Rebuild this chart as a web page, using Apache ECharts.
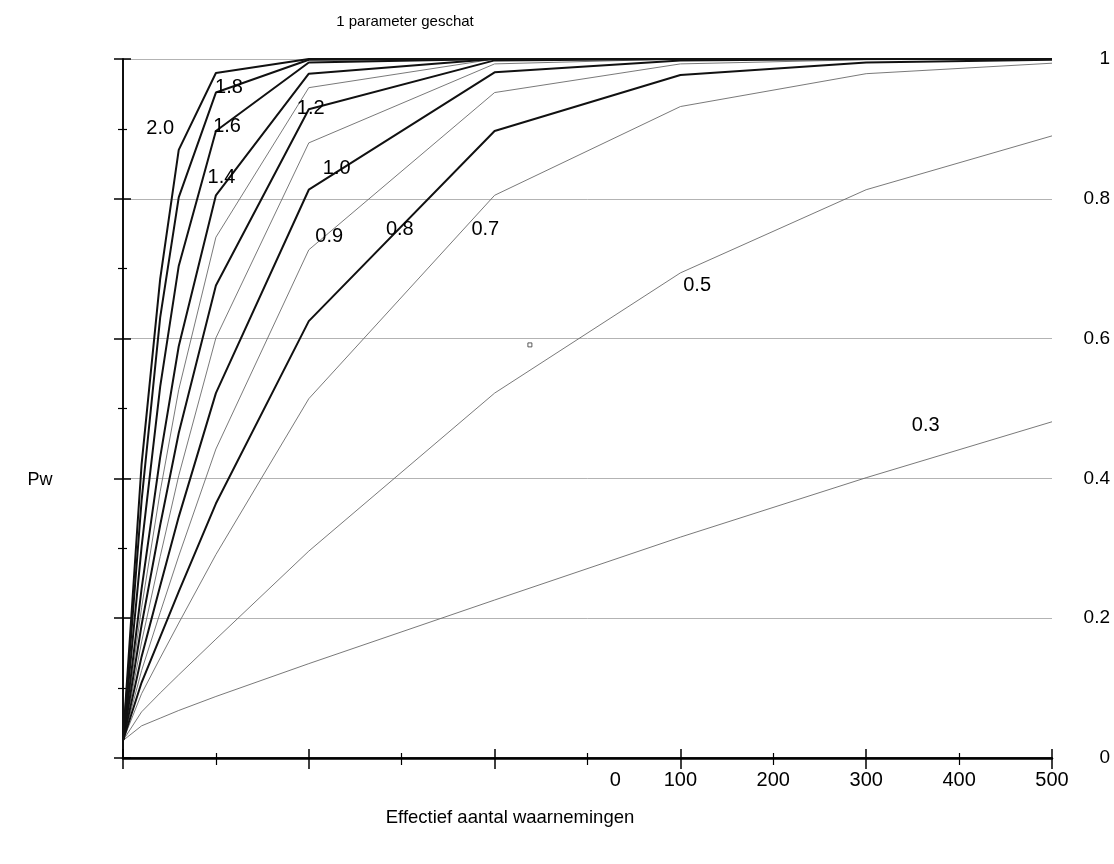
<!DOCTYPE html>
<html>
<head>
<meta charset="utf-8">
<script src="https://cdn.jsdelivr.net/npm/echarts@6/dist/echarts.min.js"></script>
<style>
  html, body { margin: 0; padding: 0; background: #fff; }
  #chart { width: 1114px; height: 864px; }
</style>
</head>
<body>
<div id="chart"></div>
<script>
  // effectief aantal waarnemingen (x) per punt
  const sampleSizes = [0, 10, 20, 30, 50, 100, 200, 300, 400, 500]

  // onderscheidingsvermogen Pw per effectgrootte
  const pw03 = [0.025, 0.046, 0.057, 0.068, 0.088, 0.135, 0.226, 0.316, 0.401, 0.481]
  const pw05 = [0.025, 0.066, 0.093, 0.119, 0.170, 0.296, 0.522, 0.694, 0.813, 0.890]
  const pw07 = [0.025, 0.092, 0.143, 0.193, 0.291, 0.514, 0.805, 0.932, 0.979, 0.994]
  const pw08 = [0.025, 0.108, 0.173, 0.238, 0.364, 0.625, 0.897, 0.977, 0.995, 0.999]
  const pw09 = [0.025, 0.125, 0.208, 0.289, 0.442, 0.727, 0.952, 0.993, 0.999, 1.000]
  const pw10 = [0.025, 0.145, 0.246, 0.345, 0.522, 0.813, 0.981, 0.998, 1.000, 1.000]
  const pw11 = [0.025, 0.166, 0.288, 0.404, 0.601, 0.880, 0.993, 1.000, 1.000, 1.000]
  const pw12 = [0.025, 0.190, 0.333, 0.465, 0.676, 0.928, 0.998, 1.000, 1.000, 1.000]
  const pw13 = [0.025, 0.215, 0.381, 0.527, 0.745, 0.959, 1.000, 1.000, 1.000, 1.000]
  const pw14 = [0.025, 0.242, 0.430, 0.589, 0.805, 0.979, 1.000, 1.000, 1.000, 1.000]
  const pw16 = [0.025, 0.302, 0.531, 0.704, 0.897, 0.995, 1.000, 1.000, 1.000, 1.000]
  const pw18 = [0.025, 0.368, 0.630, 0.802, 0.952, 0.999, 1.000, 1.000, 1.000, 1.000]
  const pw20 = [0.025, 0.420, 0.685, 0.870, 0.980, 1.000, 1.000, 1.000, 1.000, 1.000]

  // dikke lijnen = even tienden, dunne lijnen = oneven tienden
  const curves = [
    { name: '0.3', data: pw03, thick: false },
    { name: '0.5', data: pw05, thick: false },
    { name: '0.7', data: pw07, thick: false },
    { name: '0.8', data: pw08, thick: true },
    { name: '0.9', data: pw09, thick: false },
    { name: '1.0', data: pw10, thick: true },
    { name: '1.1', data: pw11, thick: false },
    { name: '1.2', data: pw12, thick: true },
    { name: '1.3', data: pw13, thick: false },
    { name: '1.4', data: pw14, thick: true },
    { name: '1.6', data: pw16, thick: true },
    { name: '1.8', data: pw18, thick: true },
    { name: '2.0', data: pw20, thick: true }
  ]

  // losse labels bij de lijnen (in asseneenheden)
  const curveLabelText = ['2.0', '1.8', '1.6', '1.4', '1.2', '1.0', '0.9', '0.8', '0.7', '0.5', '0.3']
  const curveLabelX = [20, 57, 56, 53, 101, 115, 111, 149, 195, 309, 432]
  const curveLabelY = [0.90, 0.959, 0.904, 0.83, 0.929, 0.843, 0.746, 0.756, 0.756, 0.676, 0.476]

  // het kleine vierkantje midden in de grafiek
  const strayMark = [[219, 0.591]]

  // tick labels zoals ze in het origineel staan (verschoven)
  const xTickText = ['0', '100', '200', '300', '400', '500']
  const xTickAt = [265, 300, 350, 400, 450, 500]
  const yTickText = ['0', '0.2', '0.4', '0.6', '0.8', '1']

  const font = 'Liberation Sans, Arial, sans-serif'
  const black = '#000'

  let series = curves.map(c => ({
    name: c.name,
    type: 'line',
    showSymbol: false,
    symbol: 'none',
    z: c.thick ? 4 : 3,
    lineStyle: { color: c.thick ? '#111' : '#6a6a6a', width: c.thick ? 2 : 0.9 },
    data: sampleSizes.map((n, i) => [n, c.data[i]])
  }))

  series.push({
    type: 'scatter',
    symbol: 'circle',
    symbolSize: 0,
    itemStyle: { color: black, opacity: 1 },
    z: 6,
    label: {
      show: true,
      position: [0, 0],
      align: 'center',
      verticalAlign: 'middle',
      fontSize: 20,
      fontFamily: font,
      color: black,
      opacity: 1,
      formatter: p => p.value[2]
    },
    data: curveLabelText.map((t, i) => [curveLabelX[i], curveLabelY[i], t])
  })

  series.push({
    type: 'scatter',
    symbol: 'rect',
    symbolSize: 4,
    itemStyle: { color: '#fff', borderColor: '#333', borderWidth: 1 },
    data: strayMark
  })

  let chart = echarts.init(document.getElementById('chart'))
  let option = {
    animation: false,
    backgroundColor: '#fff',
    grid: { left: 123, right: 62, top: 59, bottom: 106 },
    xAxis: [
      {
        type: 'value', min: 0, max: 500, interval: 100, position: 'bottom',
        axisLine: { lineStyle: { color: black, width: 1.5 } },
        axisTick: { length: 11, lineStyle: { color: black, width: 1.5 } },
        minorTick: { show: true, splitNumber: 2, length: 7, lineStyle: { color: black, width: 1.2 } },
        splitLine: { show: false },
        axisLabel: { show: false }
      },
      {
        type: 'value', min: 0, max: 500, interval: 100, position: 'bottom',
        axisLine: { show: false },
        axisTick: { inside: true, length: 9, lineStyle: { color: black, width: 1.5 } },
        minorTick: { show: true, splitNumber: 2, length: 5, lineStyle: { color: black, width: 1.2 } },
        splitLine: { show: false },
        axisLabel: { show: false }
      },
      {
        type: 'value', min: 0, max: 500, position: 'top',
        axisLine: { lineStyle: { color: black, width: 2.5 } },
        axisTick: { show: false },
        splitLine: { show: false },
        axisLabel: { show: false }
      },
      {
        // alleen de (verschoven) getallen onder de as
        type: 'value', min: 0, max: 500, interval: 5, position: 'bottom',
        axisLine: { show: false },
        axisTick: { show: false },
        splitLine: { show: false },
        axisLabel: {
          margin: 12, fontSize: 20, fontFamily: font, color: black,
          formatter: v => {
            let i = xTickAt.indexOf(Math.round(v))
            return i >= 0 ? xTickText[i] : ''
          }
        }
      }
    ],
    yAxis: [
      {
        type: 'value', min: 0, max: 1, interval: 0.2, position: 'left',
        axisLine: { show: true, lineStyle: { color: black, width: 1.5 } },
        axisTick: { length: 9, lineStyle: { color: black, width: 1.5 } },
        minorTick: { show: true, splitNumber: 2, length: 5, lineStyle: { color: black, width: 1.2 } },
        splitLine: { lineStyle: { color: '#a0a0a0', width: 0.8 } },
        axisLabel: { show: false }
      },
      {
        type: 'value', min: 0, max: 1, interval: 0.2, position: 'left',
        axisLine: { show: false },
        axisTick: { inside: true, length: 8, lineStyle: { color: black, width: 1.5 } },
        minorTick: { show: true, splitNumber: 2, length: 4, lineStyle: { color: black, width: 1.2 } },
        splitLine: { show: false },
        axisLabel: { show: false }
      },
      {
        type: 'value', min: 0, max: 1, interval: 0.2, position: 'right',
        axisLine: { show: true, lineStyle: { color: black, width: 1.5 } },
        axisTick: { show: false },
        splitLine: { show: false },
        axisLabel: {
          align: 'right', margin: 58, fontSize: 19, fontFamily: font, color: black,
          formatter: (v, i) => yTickText[i]
        }
      }
    ],
    graphic: [
      {
        type: 'text', x: 405, y: 22,
        style: { text: '1 parameter geschat', fontSize: 15, fontFamily: font, fill: black, textAlign: 'center', textVerticalAlign: 'middle' }
      },
      {
        type: 'text', x: 40, y: 480,
        style: { text: 'Pw', fontSize: 18, fontFamily: font, fill: black, textAlign: 'center', textVerticalAlign: 'middle' }
      },
      {
        type: 'text', x: 510, y: 818,
        style: { text: 'Effectief aantal waarnemingen', fontSize: 18.5, fontFamily: font, fill: black, textAlign: 'center', textVerticalAlign: 'middle' }
      }
    ],
    series: series
  }
  chart.setOption(option)
</script>
</body>
</html>
